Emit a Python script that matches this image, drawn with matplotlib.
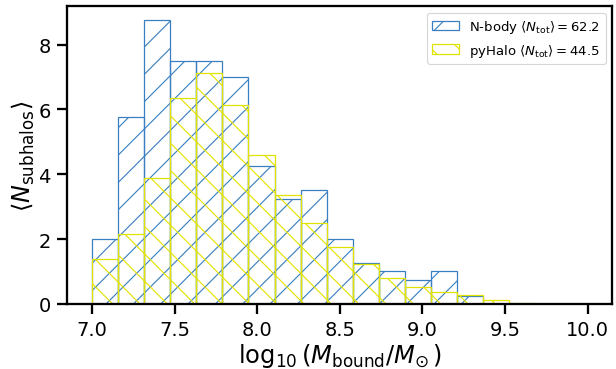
import numpy as np
import matplotlib
matplotlib.use("Agg")
import matplotlib.pyplot as plt

bin_edges = np.linspace(7.0, 10.0, 20)
nbody = [2.0, 5.75, 8.75, 7.5, 7.5, 7.0, 4.25, 3.25, 3.5, 2.0,
         1.25, 1.0, 0.75, 1.0, 0.25, 0.0, 0.0, 0.0, 0.0]
pyhalo = [1.38, 2.15, 3.88, 6.35, 7.12, 6.12, 4.58, 3.36, 2.48, 1.74,
          1.22, 0.81, 0.51, 0.37, 0.27, 0.12, 0.04, 0.0, 0.0]
label_nbody = r"N-body $\langle N_{\rm tot}\rangle = 62.2$"
label_pyhalo = r"pyHalo $\langle N_{\rm tot}\rangle = 44.5$"

DPI = 164
fig = plt.figure(figsize=(616 / DPI, 370 / DPI), dpi=DPI)
ax = fig.add_axes([0.109, 0.176, 0.885, 0.805])

plt.rcParams['hatch.linewidth'] = 0.5
centers = 0.5 * (bin_edges[:-1] + bin_edges[1:])
blue = '#3a7fc1'
yellow = '#e2e200'
ax.hist(centers, bins=bin_edges, weights=nbody, fill=False, hatch='//',
        edgecolor=blue, linewidth=0.55, label=label_nbody)
ax.hist(centers, bins=bin_edges, weights=pyhalo, fill=False, hatch='\\\\',
        edgecolor=yellow, linewidth=0.55, label=label_pyhalo)

ax.set_xticks([7.0, 7.5, 8.0, 8.5, 9.0, 9.5, 10.0])
ax.set_yticks([0, 2, 4, 6, 8])
ax.tick_params(axis='both', labelsize=8.5, length=4.5, width=1.0, pad=2.5)
for s in ax.spines.values():
    s.set_linewidth(1.0)
ax.set_xlabel(r"$\log_{10}(M_{\rm bound}/M_{\odot}\,)$", fontsize=10.6, labelpad=1)
ax.set_ylabel(r"$\langle N_{\rm subhalos}\rangle$", fontsize=10.5, labelpad=1)
leg = ax.legend(loc='upper right', fontsize=5.8, frameon=True)
leg.get_frame().set_linewidth(0.5)

fig.savefig("out.png", dpi=DPI)
